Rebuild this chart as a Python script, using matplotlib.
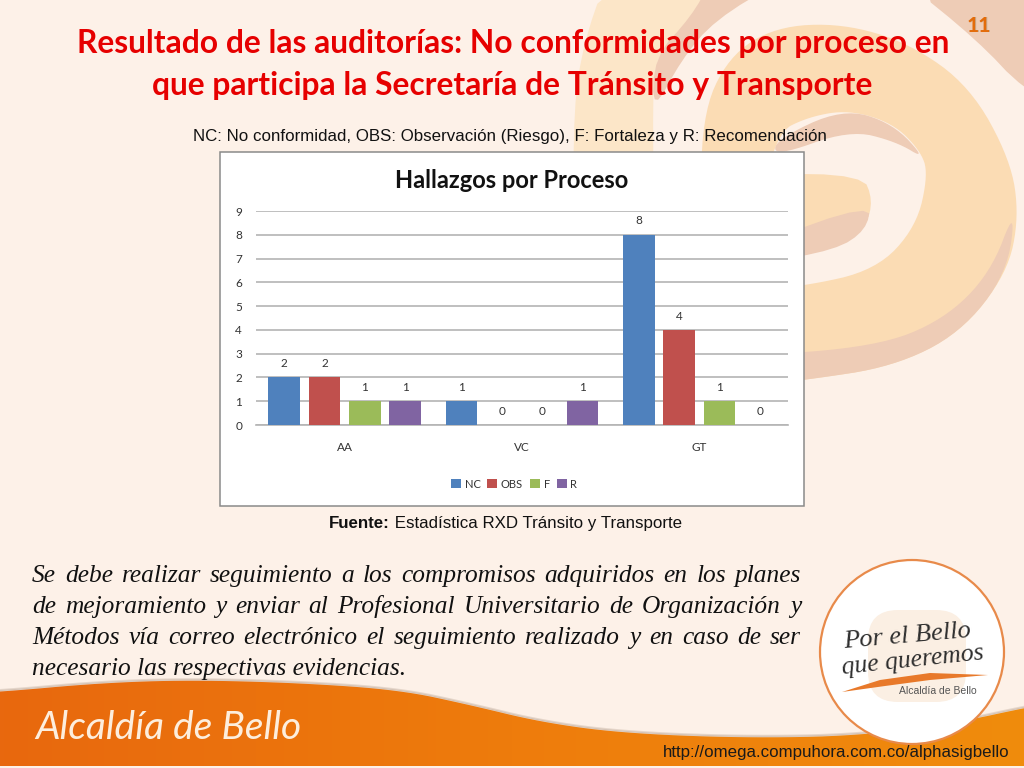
import numpy as np
import matplotlib
matplotlib.use('Agg')
from matplotlib import pyplot as plt
from matplotlib.patches import Circle, Polygon, Rectangle, FancyBboxPatch

categories = ['AA', 'VC', 'GT']
series_names = ['NC', 'OBS', 'F', 'R']
nc_values = [2, 1, 8]
obs_values = [2, 0, 4]
f_values = [1, 0, 1]
r_values = [1, 1, 0]
series_colors = ['#4f81bd', '#c0504d', '#9bbb59', '#8064a2']
y_ticks = list(range(10))

body_lines = [
    'Se debe realizar seguimiento a los compromisos adquiridos en los planes',
    'de mejoramiento y enviar al Profesional Universitario de Organización y',
    'Métodos vía correo electrónico el seguimiento realizado y en caso de ser',
]
body_last = 'necesario las respectivas evidencias.'

BG = '#fdf1e8'
PEACH = '#fbdcb4'
PEACH_LIGHT = '#fce6c8'
PINK = '#eeccb6'


def smooth(points, n=4):
    # corte de esquinas para suavizar el poligono
    p = np.array(points, dtype=float)
    for _ in range(n):
        q = np.roll(p, -1, axis=0)
        p = np.column_stack([0.75 * p + 0.25 * q, 0.25 * p + 0.75 * q]).reshape(-1, 2)
    return p


def swirl(points, color, z=1, n=3):
    p = np.array(points, dtype=float)
    p = np.column_stack([p[:, 0] / 2.975 + 540, p[:, 1] / 3])
    bg.add_patch(Polygon(smooth(p, n), closed=True, fc=color, ec='none', zorder=z))


fig = plt.figure(figsize=(10.24, 7.68), dpi=100, facecolor=BG)
bg = fig.add_axes([0, 0, 1, 1], zorder=0)
bg.axis('off')

# Remolino del fondo
swirl([(195, -60), (130, 130), (100, 320), (100, 700), (340, 700), (335, 300), (345, 170), (450, 50), (660, -60)],
      PEACH_LIGHT, 1, 2)
swirl([(1080, -60), (1600, -60), (1600, 350), (1440, 270), (1300, 120)], PINK, 1, 2)
swirl([(335, 340), (340, 170), (450, 50), (510, -60), (720, -60), (520, 60), (420, 180)], PINK, 2, 2)
swirl([(480, 700), (480, 350), (560, 170), (700, 80), (900, 70), (1100, 130), (1280, 260), (1400, 480),
       (1425, 650), (1390, 820), (1250, 1000), (1050, 1100), (790, 1140), (600, 1160), (600, 870), (780, 860),
       (1000, 810), (1120, 680), (1155, 520), (1130, 450), (1050, 370), (920, 330), (800, 350), (700, 400),
       (640, 700)],
      PEACH, 3, 3)
swirl([(1415, 620), (1390, 820), (1250, 1000), (1050, 1100), (790, 1140), (600, 1160), (600, 1070), (1000, 1040),
       (1200, 960), (1340, 820)], PINK, 4, 3)
swirl([(700, 420), (900, 325), (1050, 370), (1150, 480), (1060, 425), (920, 390), (700, 470)], PINK, 4, 3)
swirl([(650, 520), (960, 525), (990, 600), (970, 680), (650, 790)], PEACH, 4, 2)
swirl([(650, 730), (985, 610), (970, 690), (880, 750), (650, 790)], PINK, 5, 2)

# Franja inferior con degradado
edge_x = [-40, 0, 100, 190, 300, 400, 470, 540, 620, 740, 860, 960, 1024, 1080]
edge_y = [693, 692, 683, 680, 683, 690, 705, 722, 733, 738, 736, 722, 708, 698]
top_pts = list(zip(edge_x, edge_y))
band_pts = smooth(top_pts + [(1080, 820), (-40, 820)], 3)
shadow = Polygon(band_pts - [0, 1.5], closed=True, fc='#b09a88', ec='#b09a88', lw=1.5, alpha=0.3, zorder=5)
bg.add_patch(shadow)
bg.add_patch(Rectangle((0, 766), 1024, 2, fc=BG, ec='none', zorder=5.5))
band = Polygon(band_pts, closed=True, fc='none', ec='none', zorder=6)
bg.add_patch(band)
grad = bg.imshow(np.linspace(0, 1, 256).reshape(1, -1),
                 cmap=matplotlib.colors.LinearSegmentedColormap.from_list('f', ['#e8680e', '#ee7c0c', '#f08c0c']),
                 extent=(0, 1024, 766, 670), aspect='auto', zorder=6)
grad.set_clip_path(band)
bg.set_xlim(0, 1024)
bg.set_ylim(768, 0)

# Titulo y textos
title_font = dict(family='Lato', weight='bold', color='#e60000', ha='center', va='center', fontsize=22.9, zorder=20)
bg.text(513, 43, 'Resultado de las auditorías: No conformidades por proceso en', **title_font)
bg.text(512, 85, 'que participa la Secretaría de Tránsito y Transporte', **title_font)
bg.text(980, 26.5, '11', family='Lato', weight='bold', color='#c9a98c', fontsize=15, ha='center', va='center', zorder=19)
bg.text(979, 25.5, '11', family='Lato', weight='bold', color='#e36c0a', fontsize=15, ha='center', va='center', zorder=20)
bg.text(510, 136.5, 'NC: No conformidad, OBS: Observación (Riesgo), F: Fortaleza y R: Recomendación',
        family='Liberation Sans', fontsize=12.2, color='#111111', ha='center', va='center', zorder=20)

# Marco del grafico
bg.add_patch(Rectangle((220, 152), 584, 354, fc='white', ec='#8a8a8a', lw=1.1, zorder=10))
bg.text(512, 180, 'Hallazgos por Proceso', family='Lato', weight='bold', fontsize=17, color='#111111',
        ha='center', va='center', zorder=20)

ax = fig.add_axes([256 / 1024, 1 - 425 / 768, 532 / 1024, 214 / 768], zorder=2)
ax.patch.set_alpha(0)
x = np.arange(len(categories))
bar_w = 0.18
pitch = 0.2275
all_values = [nc_values, obs_values, f_values, r_values]
handles = []
for i in range(4):
    bars = ax.bar(x + (i - 1.5) * pitch, all_values[i], bar_w, color=series_colors[i], zorder=3,
                  label=series_names[i])
    handles.append(bars)
    for xp, v in zip(x + (i - 1.5) * pitch, all_values[i]):
        ax.annotate(str(v), (xp, v), xytext=(0, 10), textcoords='offset points', ha='center', va='center',
                    family='Lato', fontsize=8.5, color='#333333')

ax.set_xlim(-0.5, 2.5)
ax.set_ylim(0, 9)
ax.set_yticks(y_ticks)
ax.set_xticks(x)
ax.set_xticklabels(categories)
ax.grid(axis='y', color='#b4b4b4', lw=1.2, zorder=1)
ax.set_axisbelow(True)
for side in ['top', 'right', 'left']:
    ax.spines[side].set_visible(False)
ax.spines['bottom'].set_color('#b4b4b4')
ax.spines['bottom'].set_linewidth(1.2)
ax.tick_params(axis='x', length=0, pad=12, labelsize=8.5, labelcolor='#333333')
ax.tick_params(axis='y', length=0, pad=10, labelsize=8.5, labelcolor='#333333')
for lab in ax.get_xticklabels() + ax.get_yticklabels():
    lab.set_family('Lato')

leg = fig.legend(handles=handles, labels=series_names, ncol=4, loc='center', bbox_to_anchor=(514 / 1024, 1 - 484 / 768),
                 frameon=False, handlelength=0.9, handleheight=0.9, handletextpad=0.35,
                 columnspacing=0.6, prop={'family': 'Lato', 'size': 8})
leg.set_zorder(3)
for t in leg.get_texts():
    t.set_color('#333333')

# Fuente
src = bg.text(329, 523.5, 'Fuente:', family='Liberation Sans', weight='bold', fontsize=12.2, color='#111111',
              ha='left', va='center', zorder=20)
bg.annotate(' Estadística RXD Tránsito y Transporte', xy=(1, 0.5), xycoords=src, family='Liberation Sans',
            fontsize=12.2, color='#111111', ha='left', va='center', zorder=20)

# Parrafo justificado
fig.canvas.draw()
rend = fig.canvas.get_renderer()
left, right = 32, 801
body_font = dict(family='Liberation Serif', style='italic', fontsize=18.3, color='#111111', va='baseline', ha='left',
                 zorder=20)
for line, y in zip(body_lines, [582, 613, 644]):
    words = line.split(' ')
    widths = []
    for w in words:
        t = bg.text(0, 0, w, **body_font)
        widths.append(t.get_window_extent(rend).width)
        t.remove()
    gap = (right - left - sum(widths)) / (len(words) - 1)
    cur = left
    for w, wd in zip(words, widths):
        bg.text(cur, y, w, **body_font)
        cur += wd + gap
bg.text(left, 675, body_last, **body_font)

# Logo
bg.add_patch(Circle((912, 652), 92, fc='white', ec='#e88a4a', lw=1.6, zorder=7))
bg.add_patch(FancyBboxPatch((868, 610), 98, 92, boxstyle='round,pad=0,rounding_size=30', fc='#fbefe3', ec='none', zorder=8))
bg.text(907, 636, 'Por el Bello', family='Liberation Serif', style='italic', fontsize=19,
        color='#2e2e2e', rotation=5, ha='center', va='center', zorder=9)
bg.text(913, 661, 'que queremos', family='Liberation Serif', style='italic', fontsize=18.5,
        color='#2e2e2e', rotation=6, ha='center', va='center', zorder=9)
bg.add_patch(Polygon([(842, 692), (880, 680), (930, 673), (988, 675), (930, 680), (885, 686)], closed=True,
                     fc='#e8792a', ec='none', zorder=9))
bg.text(938, 691, 'Alcaldía de Bello', family='Liberation Sans', fontsize=7.5, color='#555555', ha='center',
        va='center', zorder=9)

# Pie
bg.text(35, 728, 'Alcaldía de Bello', family='Lato', style='italic', fontsize=28, color='#fdeedd', ha='left',
        va='center', zorder=20)
bg.text(1010, 752, 'http://omega.compuhora.com.co/alphasigbello', family='Liberation Sans', fontsize=12.2,
        color='#1a1a1a', ha='right', va='center', zorder=20)

fig.savefig('out.png', dpi=100, facecolor=BG)
